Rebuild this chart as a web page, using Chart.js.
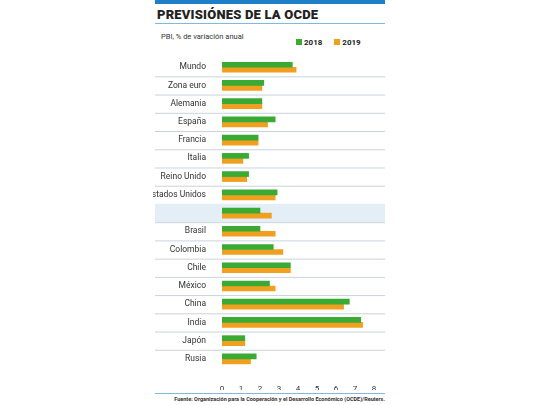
<!DOCTYPE html>
<html><head><meta charset="utf-8">
<script src="https://cdn.jsdelivr.net/npm/chart.js@4"></script>
<style>
body{margin:0;width:540px;height:405px;background:#fff;position:relative;font-family:Roboto,sans-serif;overflow:hidden}
#top{position:absolute;left:155px;top:0;width:230px;height:4px;background:#1f7fc6}
#title{position:absolute;left:157px;top:7px;font-weight:900;font-size:13px;color:#222;letter-spacing:0.2px}
#tline{position:absolute;left:155px;top:23px;width:230px;height:1px;background:#7fb8e0}
#sub{position:absolute;left:161px;top:32px;font-size:7.5px;color:#333}
#leg{position:absolute;left:296px;top:38px;font-size:8px;font-weight:bold;color:#222}
#leg span.b{display:inline-block;width:6px;height:6px;margin-right:2px;vertical-align:-0px}
#foot{position:absolute;right:155px;top:396px;font-size:5.5px;color:#333;font-weight:bold}
#fline{position:absolute;left:155px;top:393px;width:230px;height:1px;background:#7fb8e0}
#wrap{position:absolute;left:153px;top:45px;width:232px;height:345px}
</style></head><body>
<div id="top"></div>
<div id="title">PREVISIÓNES DE LA OCDE</div>
<div id="tline"></div>
<div id="sub">PBI, % de variación anual</div>
<div id="leg"><span class="b" style="background:#3aaa35"></span>2018 &nbsp;&nbsp;&nbsp;&nbsp;&nbsp;<span class="b" style="background:#f0a01e"></span>2019</div>
<div id="wrap"><canvas id="c"></canvas></div>
<div id="fline"></div>
<div id="foot">Fuente: Organización para la Cooperación y el Desarrollo Económico (OCDE)/Reuters.</div>
<script>
const categories=["Mundo","Zona euro","Alemania","España","Francia","Italia","Reino Unido","Estados Unidos","Argentina","Brasil","Colombia","Chile","México","China","India","Japón","Rusia"];
const values2018=[3.7,2.2,2.1,2.8,1.9,1.4,1.4,2.9,2.0,2.0,2.7,3.6,2.5,6.7,7.3,1.2,1.8];
const values2019=[3.9,2.1,2.1,2.4,1.9,1.1,1.3,2.8,2.6,2.8,3.2,3.6,2.8,6.4,7.4,1.2,1.5];
const xTicks=[0,1,2,3,4,5,6,7,8];
const highlight="Argentina";
const bgPlugin={id:'bg',beforeDatasetsDraw(ch){
  const {ctx,chartArea:a,scales:{y}}=ch;const step=y.getPixelForValue(1)-y.getPixelForValue(0);
  ctx.save();
  categories.forEach((c,i)=>{const py=y.getPixelForValue(i);
    if(c===highlight){ctx.fillStyle='#e3eef7';ctx.fillRect(2,py-step/2,230,step);}
    if(i<categories.length-1){ctx.fillStyle='#c9d3dc';ctx.fillRect(2,py+step/2,230,1);}
  });
  ctx.restore();}};
new Chart(document.getElementById('c'),{type:'bar',
 data:{labels:categories,datasets:[
  {label:'2018',data:values2018,backgroundColor:'#3aaa35',barThickness:5,borderSkipped:false},
  {label:'2019',data:values2019,backgroundColor:'#f0a01e',barThickness:5}]},
 options:{indexAxis:'y',responsive:true,maintainAspectRatio:false,animation:false,
  layout:{padding:{top:7,right:11,left:0,bottom:0}},
  plugins:{legend:{display:false},tooltip:{enabled:false}},
  scales:{
   x:{min:0,max:8,afterBuildTicks(s){s.ticks=xTicks.map(v=>({value:v}));},grid:{display:false},border:{display:false},
      ticks:{color:'#333',font:{family:'Roboto',size:8},padding:8},afterFit(s){s.height=22;}},
   y:{grid:{display:false},border:{display:false},afterFit(s){s.width=69;},
      ticks:{padding:8,color:'#333',font:c=>({family:'Roboto',size:8.5,weight:categories[c.index]===highlight?'bold':'normal'})}}
  }},plugins:[bgPlugin]});
</script></body></html>
